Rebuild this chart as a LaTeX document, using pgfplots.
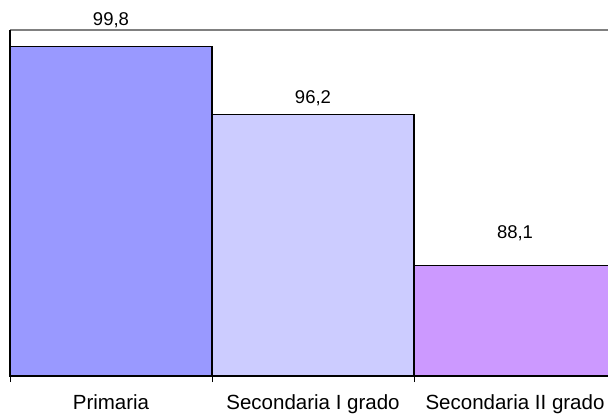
\documentclass[border=0pt]{standalone}
\usepackage{pgfplots}
\pgfplotsset{compat=1.18}
\usepackage{fontspec}
\setmainfont{Liberation Sans}
\definecolor{barA}{HTML}{9999FF}
\definecolor{barB}{HTML}{CCCCFF}
\definecolor{barC}{HTML}{CC99FF}
\begin{document}
\begin{tikzpicture}
\useasboundingbox (0,0) rectangle (608pt,416pt);
\begin{axis}[
at={(10pt,40pt)},
anchor=south west,
scale only axis,
width=598pt,
height=346pt,
xmin=-0.5, xmax=2.4604,
ymin=82.2, ymax=100.7,
clip=false,
axis line style={draw=none},
ytick=\empty,
xtick={0,1,2},
xticklabels={Primaria,Secondaria I grado,Secondaria II grado},
minor xtick={-0.5,0.5,1.5},
major tick length=0pt,
minor tick length=6pt,
tick align=outside,
xtick pos=bottom,
tick style={black, line width=0.8pt},
xticklabel style={font=\fontsize{20.5}{24}\selectfont, yshift=-15pt},
ybar, bar width=1, bar shift=0pt,
nodes near coords={\pgfmathprintnumber[fixed,precision=1,fixed zerofill,use comma,assume math mode=true]{\pgfplotspointmeta}},
every node near coord/.append style={font=\fontsize{18.5}{22}\selectfont, black, anchor=center},
]
\addplot[fill=barA, draw=black, line width=1.3pt, nodes near coords style={yshift=26.8pt}] coordinates {(0,99.8)};
\addplot[fill=barB, draw=black, line width=1.3pt, nodes near coords style={yshift=15.7pt}] coordinates {(1,96.2)};
\addplot[fill=barC, draw=black, line width=1.3pt, nodes near coords style={yshift=32pt}] coordinates {(2,88.1)};
\draw[gray, line width=1.5pt] (rel axis cs:0,1) -- (rel axis cs:1.1,1);
\draw[black, line width=2pt] (rel axis cs:0,0) -- (rel axis cs:0,1);
\end{axis}
\end{tikzpicture}
\end{document}
